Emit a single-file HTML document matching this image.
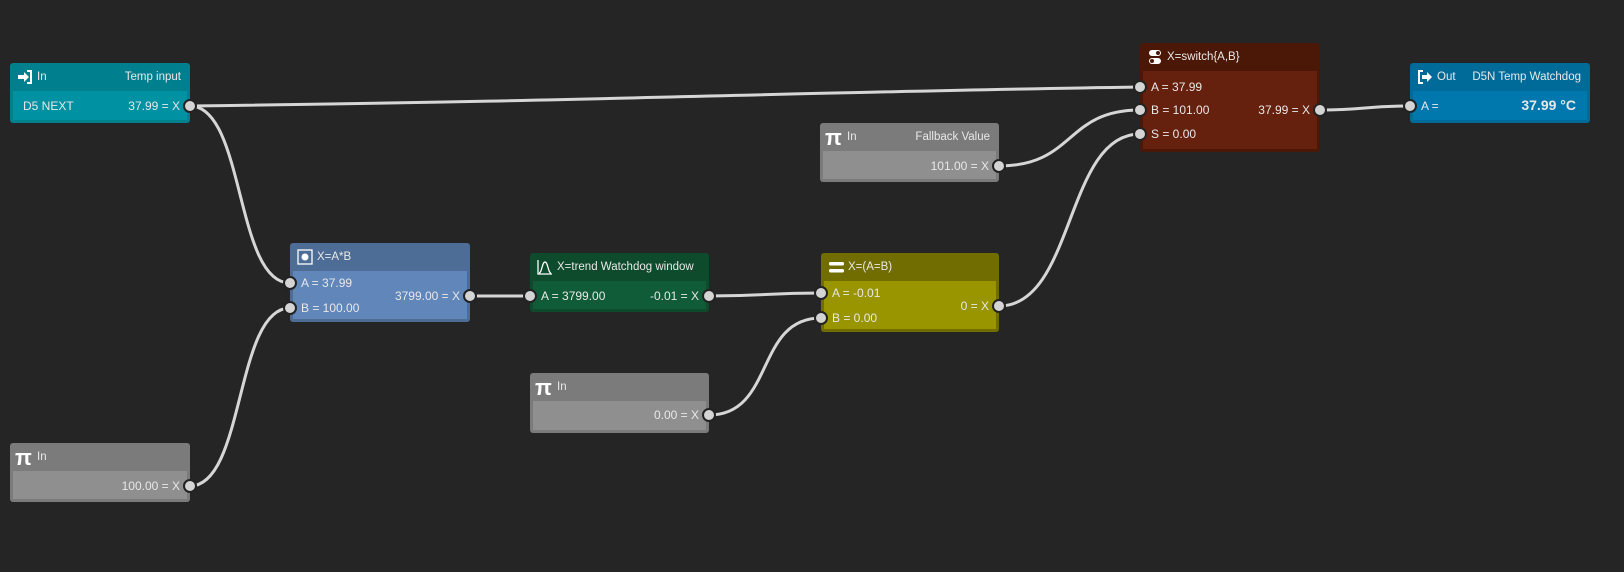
<!DOCTYPE html>
<html><head><meta charset="utf-8"><style>
body{margin:0;width:1624px;height:572px;background:#252525;overflow:hidden;font-family:"Liberation Sans","DejaVu Sans",sans-serif;font-size:12px;color:#e8e8e8;position:relative}
.n{position:absolute;border-radius:3px}
.h{position:absolute;left:0;right:0;top:0;height:28px;line-height:28px;padding:0 6px 0 27px;box-sizing:border-box;white-space:nowrap;font-size:11.5px}
.h .r{position:absolute;right:9px;top:0}
.b{position:absolute;left:3px;right:3px;bottom:3px}
.t{position:absolute;white-space:nowrap;line-height:14px}
.ic{position:absolute;left:7px;top:6px;width:16px;height:16px}
svg.w{position:absolute;left:0;top:0}
</style></head><body>
<svg class="w" width="1624" height="572">
<g fill="none" stroke="#d6d6d6" stroke-width="3">
<path d="M190,106 C600,101 800,92 1140,87"/>
<path d="M190,106 C245,106 235,283 290,283"/>
<path d="M190,486 C245,486 235,308 290,308"/>
<path d="M470,296 L530,296"/>
<path d="M709,296 C765,296 765,293 821,293"/>
<path d="M709,415 C775,415 755,318 821,318"/>
<path d="M999,306 C1075,306 1065,134 1140,134"/>
<path d="M999,166 C1075,166 1065,110 1140,110"/>
<path d="M1320,110 C1365,110 1365,106 1410,106"/>
</g>
</svg>

<div class="n" style="left:10px;top:63px;width:180px;height:60px;background:#00808e">
 <div class="h">In<span class="r">Temp input</span></div>
 <svg class="ic" viewBox="0 0 16 16"><path d="M1 6h6V3l5 5-5 5v-3H1z" fill="#fff"/><path d="M10 2h4v12h-4" fill="none" stroke="#fff" stroke-width="2"/></svg>
 <div class="b" style="top:28px;background:#0091a3"></div>
 <div class="t" style="left:13px;top:36px">D5 NEXT</div>
 <div class="t" style="right:10px;top:36px">37.99 = X</div>
</div>

<div class="n" style="left:290px;top:243px;width:180px;height:79px;background:#4e6d96">
 <div class="h">X=A*B</div>
 <svg class="ic" viewBox="0 0 16 16"><rect x="1" y="1" width="14" height="14" fill="none" stroke="#fff" stroke-width="1.3"/><circle cx="8" cy="8" r="3.5" fill="#fff"/></svg>
 <div class="b" style="top:28px;background:#6086ba"></div>
 <div class="t" style="left:11px;top:33px">A = 37.99</div>
 <div class="t" style="left:11px;top:58px">B = 100.00</div>
 <div class="t" style="right:10px;top:46px">3799.00 = X</div>
</div>

<div class="n" style="left:10px;top:443px;width:180px;height:59px;background:#7b7b7b">
 <div class="h">In</div>
 <div class="t" style="left:5px;top:5px;font-size:22px;line-height:20px;font-weight:bold;color:#fff">π</div>
 <div class="b" style="top:28px;background:#8f8f8f"></div>
 <div class="t" style="right:10px;top:36px">100.00 = X</div>
</div>

<div class="n" style="left:530px;top:253px;width:179px;height:59px;background:#0e4a2c">
 <div class="h">X=trend&nbsp;Watchdog window</div>
 <svg class="ic" viewBox="0 0 16 16"><path d="M1 1v14h14" fill="none" stroke="#fff" stroke-width="1.3"/><path d="M2 14C5 14 5 3 8 3s3 11 6 11" fill="none" stroke="#fff" stroke-width="1.3"/></svg>
 <div class="b" style="top:28px;background:#115c38"></div>
 <div class="t" style="left:11px;top:36px">A = 3799.00</div>
 <div class="t" style="right:10px;top:36px">-0.01 = X</div>
</div>

<div class="n" style="left:530px;top:373px;width:179px;height:60px;background:#7b7b7b">
 <div class="h">In</div>
 <div class="t" style="left:5px;top:5px;font-size:22px;line-height:20px;font-weight:bold;color:#fff">π</div>
 <div class="b" style="top:28px;background:#8f8f8f"></div>
 <div class="t" style="right:10px;top:35px">0.00 = X</div>
</div>

<div class="n" style="left:821px;top:253px;width:178px;height:79px;background:#716d00">
 <div class="h">X=(A=B)</div>
 <svg class="ic" viewBox="0 0 16 16"><rect x="1" y="3" width="15" height="3.5" rx="1.5" fill="#fff"/><rect x="1" y="10" width="15" height="3.5" rx="1.5" fill="#fff"/></svg>
 <div class="b" style="top:28px;background:#989500"></div>
 <div class="t" style="left:11px;top:33px">A = -0.01</div>
 <div class="t" style="left:11px;top:58px">B = 0.00</div>
 <div class="t" style="right:10px;top:46px">0 = X</div>
</div>

<div class="n" style="left:820px;top:123px;width:179px;height:59px;background:#7b7b7b">
 <div class="h">In<span class="r">Fallback Value</span></div>
 <div class="t" style="left:5px;top:5px;font-size:22px;line-height:20px;font-weight:bold;color:#fff">π</div>
 <div class="b" style="top:28px;background:#8f8f8f"></div>
 <div class="t" style="right:10px;top:36px">101.00 = X</div>
</div>

<div class="n" style="left:1140px;top:43px;width:180px;height:109px;background:#4b1707">
 <div class="h">X=switch{A,B}</div>
 <svg class="ic" viewBox="0 0 16 16"><rect x="2" y="1" width="12" height="6" rx="3" fill="#fff"/><rect x="2" y="9" width="12" height="6" rx="3" fill="#fff"/><circle cx="11" cy="4" r="2" fill="#4b1707"/><circle cx="5" cy="12" r="2" fill="#4b1707"/></svg>
 <div class="b" style="top:28px;background:#65200e"></div>
 <div class="t" style="left:11px;top:37px">A = 37.99</div>
 <div class="t" style="left:11px;top:60px">B = 101.00</div>
 <div class="t" style="left:11px;top:84px">S = 0.00</div>
 <div class="t" style="right:10px;top:60px">37.99 = X</div>
</div>

<div class="n" style="left:1410px;top:63px;width:180px;height:60px;background:#006b99">
 <div class="h">Out<span class="r">D5N Temp Watchdog</span></div>
 <svg class="ic" viewBox="0 0 16 16"><path d="M6 2H2v12h4" fill="none" stroke="#fff" stroke-width="2"/><path d="M5 6h5V3l5 5-5 5v-3H5z" fill="#fff"/></svg>
 <div class="b" style="top:28px;background:#0078ad"></div>
 <div class="t" style="left:11px;top:36px">A =</div>
 <div class="t" style="right:14px;top:35px;font-size:14px;font-weight:bold">37.99 °C</div>
</div>

<svg class="w" width="1624" height="572">
<g fill="#d4d4d4" stroke="#222" stroke-width="2">
<circle cx="190" cy="106" r="6"/>
<circle cx="290" cy="283" r="6"/><circle cx="290" cy="308" r="6"/><circle cx="470" cy="296" r="6"/>
<circle cx="190" cy="486" r="6"/>
<circle cx="530" cy="296" r="6"/><circle cx="709" cy="296" r="6"/>
<circle cx="709" cy="415" r="6"/>
<circle cx="821" cy="293" r="6"/><circle cx="821" cy="318" r="6"/><circle cx="999" cy="306" r="6"/>
<circle cx="999" cy="166" r="6"/>
<circle cx="1140" cy="87" r="6"/><circle cx="1140" cy="110" r="6"/><circle cx="1140" cy="134" r="6"/><circle cx="1320" cy="110" r="6"/>
<circle cx="1410" cy="106" r="6"/>
</g>
</svg>
</body></html>
